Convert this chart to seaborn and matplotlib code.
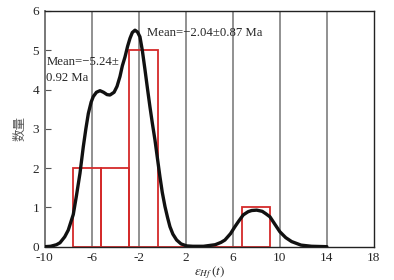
import numpy as np
import pandas as pd
import seaborn as sns
from matplotlib import pyplot as plt

# histogram bins (eHf(t)) and counts
bin_edges = [-7.6, -5.2, -2.8, -0.4, 2.0, 4.4, 6.8, 9.2]
counts = [2, 2, 5, 0, 0, 0, 1]

# probability curve
curve_x = [-10.0, -9.5, -9.0, -8.7, -8.3, -8.0, -7.57, -7.3, -7.0, -6.72, -6.5, -6.29,
           -6.05, -5.87, -5.6, -5.3, -5.0, -4.7, -4.45, -4.1, -3.85, -3.6, -3.4, -3.17,
           -2.95, -2.75, -2.55, -2.32, -2.1, -1.9, -1.7, -1.47, -1.25, -1.05, -0.85,
           -0.62, -0.4, -0.2, 0.0, 0.23, 0.45, 0.65, 0.9, 1.22, 1.6, 2.07, 2.6, 3.5,
           4.5, 5.0, 5.33, 5.8, 6.18, 6.5, 6.89, 7.3, 7.6, 8.03, 8.5, 8.8, 9.16, 9.6,
           10.0, 10.5, 11.0, 11.8, 12.7, 14.0]
curve_y = [0.0, 0.01, 0.05, 0.10, 0.25, 0.42, 0.82, 1.30, 1.87, 2.54, 3.00, 3.39,
           3.68, 3.82, 3.93, 3.97, 3.93, 3.87, 3.86, 3.93, 4.08, 4.33, 4.60, 4.83,
           5.10, 5.30, 5.45, 5.51, 5.46, 5.34, 5.00, 4.50, 4.00, 3.56, 3.15,
           2.71, 2.22, 1.78, 1.38, 1.02, 0.74, 0.51, 0.32, 0.17, 0.07, 0.02, 0.01, 0.01,
           0.05, 0.11, 0.17, 0.33, 0.51, 0.65, 0.81, 0.89, 0.92, 0.93, 0.90, 0.84, 0.76, 0.56,
           0.38, 0.23, 0.13, 0.04, 0.01, 0.0]

x_ticks = [-10, -6, -2, 2, 6, 10, 14, 18]
y_ticks = [0, 1, 2, 3, 4, 5, 6]

sns.set_style('ticks')
plt.rcParams['font.family'] = ['Liberation Serif', 'Noto Sans CJK SC']
plt.rcParams['mathtext.fontset'] = 'stix'
plt.rcParams['axes.unicode_minus'] = False

fig = plt.figure(figsize=(3.94, 2.80), dpi=100)
ax = fig.add_axes([0.1135, 0.119, 0.8355, 0.842])

for g in x_ticks[1:-1]:
    ax.axvline(g, color='#909090', lw=1.4, zorder=0)

centers = [(a + b) / 2 for a, b in zip(bin_edges[:-1], bin_edges[1:])]
hist = pd.DataFrame({'x': centers, 'n': counts})
sns.histplot(data=hist, x='x', weights='n', bins=bin_edges, fill=False,
             color='#d42a2a', linewidth=1.3, ax=ax, zorder=2)

sns.lineplot(x=curve_x, y=curve_y, color='#111111', lw=2.4, ax=ax, zorder=3)

ax.text(-1.3, 5.45, 'Mean=\u22122.04\u00b10.87 Ma', fontsize=9.2, va='center', ha='left')
ax.text(-9.85, 4.7, 'Mean=\u22125.24\u00b1', fontsize=9.2, va='center', ha='left')
ax.text(-9.85, 4.29, '0.92 Ma', fontsize=9.2, va='center', ha='left')

ax.set_xlim(-10, 18)
ax.set_ylim(0, 6)
ax.set_xticks(x_ticks)
ax.set_yticks(y_ticks)
ax.tick_params(axis='x', length=0, labelsize=9.5, pad=4)
ax.tick_params(axis='y', direction='in', length=4, labelsize=9.5, color='#555555', pad=4)
ax.set_xlabel(r'$\varepsilon_{Hf}\,(t)$', fontsize=9.5, labelpad=0)
ax.set_ylabel('数量', fontsize=9, family=['Noto Sans CJK SC'], color='#555555', labelpad=4)

for s in ['top', 'right', 'bottom']:
    ax.spines[s].set_color('#222222')
    ax.spines[s].set_linewidth(1.0)
ax.spines['left'].set_color('#777777')
ax.spines['left'].set_linewidth(1.4)

fig.savefig('out.png', dpi=100)
